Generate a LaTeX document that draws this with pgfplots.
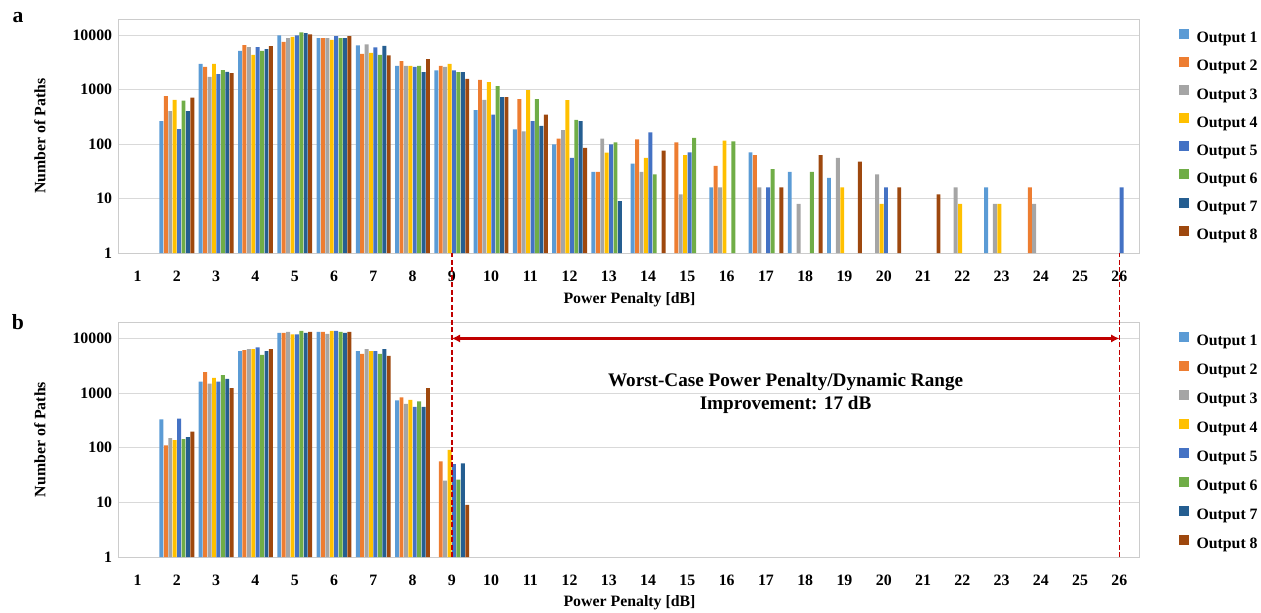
\documentclass[border=0pt]{standalone}
\usepackage{fontspec}
\setmainfont{Liberation Serif}
\usepackage{pgfplots}
\pgfplotsset{compat=1.18}
\usetikzlibrary{arrows.meta}

\definecolor{oA}{HTML}{5B9BD5}
\definecolor{oB}{HTML}{ED7D31}
\definecolor{oC}{HTML}{A5A5A5}
\definecolor{oD}{HTML}{FFC000}
\definecolor{oE}{HTML}{4472C4}
\definecolor{oF}{HTML}{70AD47}
\definecolor{oG}{HTML}{255E91}
\definecolor{oH}{HTML}{9E480E}
\definecolor{darkred}{HTML}{C00000}

\begin{document}
\begin{tikzpicture}[font=\bfseries\fontsize{9.5}{11.4}\selectfont]
\path[use as bounding box] (0,0) rectangle (756.6pt,-367.2pt);

\node[font=\bfseries\fontsize{13}{15}\selectfont] at (10.8pt,-10.8pt) {a};
\node[font=\bfseries\fontsize{13}{15}\selectfont] at (10.8pt,-193.2pt) {b};

% panel a
\begin{axis}[at={(70.8pt,-151.8pt)}, anchor=south west,
    scale only axis, width=612.6pt, height=140.4pt,
    xmin=0.5, xmax=26.5,
    ymode=log, ymin=1, ymax=20000,
    ybar, bar width=0.1,
    xtick={1,...,26},
    ytick={1,10,100,1000,10000},
    yticklabels={1,10,100,1000,10000},
    /pgf/number format/assume math mode=true,
    tick style={draw=none},
    ymajorgrids, major grid style={draw=black!15},
    axis line style={draw=black!20},
    xticklabel style={yshift=-3pt},
    xlabel={Power Penalty [dB]},
    ylabel={Number of Paths},
    xlabel style={at={(axis description cs:0.501,-0.2)}, anchor=center},
    ylabel style={at={(axis description cs:-0.0764,0.5)}, anchor=center},
    legend style={at={(1.039,0.96)}, anchor=north west, draw=none, fill=none,
      inner sep=0pt, row sep=5pt, column sep=2.4pt},
    legend cell align=left,
    legend image code/.code={\fill[#1] (0pt,0pt) rectangle (6pt,6pt);},
  ]
\addplot[fill=oA, draw=none, bar shift=-0.39375] coordinates {(2,266)(3,3006)(4,5212)(5,10000)(6,8913)(7,6530)(8,2763)(9,2270)(10,424)(11,187)(12,99)(13,31)(14,44)(16,16)(17,71)(18,31)(19,24)(23,16)};
\addplot[fill=oB, draw=none, bar shift=-0.28125] coordinates {(2,766)(3,2650)(4,6622)(5,7628)(6,8913)(7,4590)(8,3365)(9,2763)(10,1528)(11,675)(12,126)(13,31)(14,122)(15,108)(16,40)(17,63)(24,16)};
\addplot[fill=oC, draw=none, bar shift=-0.16875] coordinates {(2,406)(3,1735)(4,6085)(5,8913)(6,8913)(7,6810)(8,2763)(9,2650)(10,656)(11,172)(12,182)(13,126)(14,31)(15,12)(16,16)(17,16)(18,8)(19,56)(20,28)(22,16)(23,8)(24,8)};
\addplot[fill=oD, draw=none, bar shift=-0.05625] coordinates {(2,656)(3,3006)(4,4405)(5,9428)(6,8300)(7,4790)(8,2763)(9,3006)(10,1385)(11,987)(12,647)(13,70)(14,56)(15,63)(16,116)(19,16)(20,8)(22,8)(23,8)};
\addplot[fill=oE, draw=none, bar shift=0.05625] coordinates {(2,190)(3,1941)(4,6085)(5,10000)(6,9700)(7,6000)(8,2650)(9,2270)(10,348)(11,266)(12,56)(13,99)(14,165)(15,71)(17,16)(20,16)(26,16)};
\addplot[fill=oF, draw=none, bar shift=0.16875] coordinates {(2,629)(3,2300)(4,5212)(5,11330)(6,8913)(7,4400)(8,2763)(9,2115)(10,1170)(11,675)(12,281)(13,108)(14,28)(15,131)(16,113)(17,35)(18,31)};
\addplot[fill=oG, draw=none, bar shift=0.28125] coordinates {(2,406)(3,2144)(4,5595)(5,11010)(6,8913)(7,6440)(8,2112)(9,2115)(10,734)(11,218)(12,266)(13,9)};
\addplot[fill=oH, draw=none, bar shift=0.39375] coordinates {(2,714)(3,2027)(4,6346)(5,10400)(6,9700)(7,4280)(8,3665)(9,1595)(10,734)(11,348)(12,86)(14,76)(17,16)(18,63)(19,48)(20,16)(21,12)};
\legend{Output 1,Output 2,Output 3,Output 4,Output 5,Output 6,Output 7,Output 8}
\end{axis}

% panel b
\begin{axis}[at={(70.8pt,-334.2pt)}, anchor=south west, clip=false,
    scale only axis, width=612.6pt, height=141pt,
    xmin=0.5, xmax=26.5,
    ymode=log, ymin=1, ymax=20000,
    ybar, bar width=0.1,
    xtick={1,...,26},
    ytick={1,10,100,1000,10000},
    yticklabels={1,10,100,1000,10000},
    /pgf/number format/assume math mode=true,
    tick style={draw=none},
    ymajorgrids, major grid style={draw=black!15},
    axis line style={draw=black!20},
    xticklabel style={yshift=-3pt},
    xlabel={Power Penalty [dB]},
    ylabel={Number of Paths},
    xlabel style={at={(axis description cs:0.501,-0.195)}, anchor=center},
    ylabel style={at={(axis description cs:-0.0764,0.5)}, anchor=center},
    legend style={at={(1.039,0.96)}, anchor=north west, draw=none, fill=none,
      inner sep=0pt, row sep=5.5pt, column sep=2.4pt},
    legend cell align=left,
    legend image code/.code={\fill[#1] (0pt,0pt) rectangle (6pt,6pt);},
  ]
\addplot[fill=oA, draw=none, bar shift=-0.39375] coordinates {(2,331)(3,1625)(4,5860)(5,12700)(6,13250)(7,5860)(8,739)};
\addplot[fill=oB, draw=none, bar shift=-0.28125] coordinates {(2,110)(3,2412)(4,6110)(5,12700)(6,13250)(7,5230)(8,839)(9,56)};
\addplot[fill=oC, draw=none, bar shift=-0.16875] coordinates {(2,150)(3,1494)(4,6370)(5,13250)(6,12190)(7,6370)(8,633)(9,25)};
\addplot[fill=oD, draw=none, bar shift=-0.05625] coordinates {(2,138)(3,1897)(4,6370)(5,11830)(6,13830)(7,5860)(8,750)(9,91)};
\addplot[fill=oE, draw=none, bar shift=0.05625] coordinates {(2,340)(3,1625)(4,6840)(5,11830)(6,13830)(7,5860)(8,557)(9,50)};
\addplot[fill=oF, draw=none, bar shift=0.16875] coordinates {(2,144)(3,2125)(4,5010)(5,13830)(6,13250)(7,5230)(8,708)(9,26)};
\addplot[fill=oG, draw=none, bar shift=0.28125] coordinates {(2,157)(3,1820)(4,5860)(5,12700)(6,12700)(7,6370)(8,557)(9,52)};
\addplot[fill=oH, draw=none, bar shift=0.39375] coordinates {(2,197)(3,1227)(4,6370)(5,13250)(6,13250)(7,4810)(8,1227)(9,9)};
\legend{Output 1,Output 2,Output 3,Output 4,Output 5,Output 6,Output 7,Output 8}
\draw[darkred, line width=1pt, dash pattern=on 3pt off 1.5pt] (axis cs:9,1) -- ++(0pt,182.4pt);
\draw[darkred, line width=1pt, dash pattern=on 3pt off 1.5pt] (axis cs:26,1) -- ++(0pt,182.4pt);
\draw[darkred, line width=1.6pt, {Latex[length=5pt,width=5pt]}-{Latex[length=5pt,width=5pt]}] (axis cs:9,10000) -- (axis cs:26,10000);
\node[align=center, font=\bfseries\fontsize{11.5}{13.8}\selectfont] at (axis cs:17.5,970) {Worst-Case Power Penalty/Dynamic Range\\Improvement: 17 dB};
\end{axis}
\end{tikzpicture}
\end{document}
